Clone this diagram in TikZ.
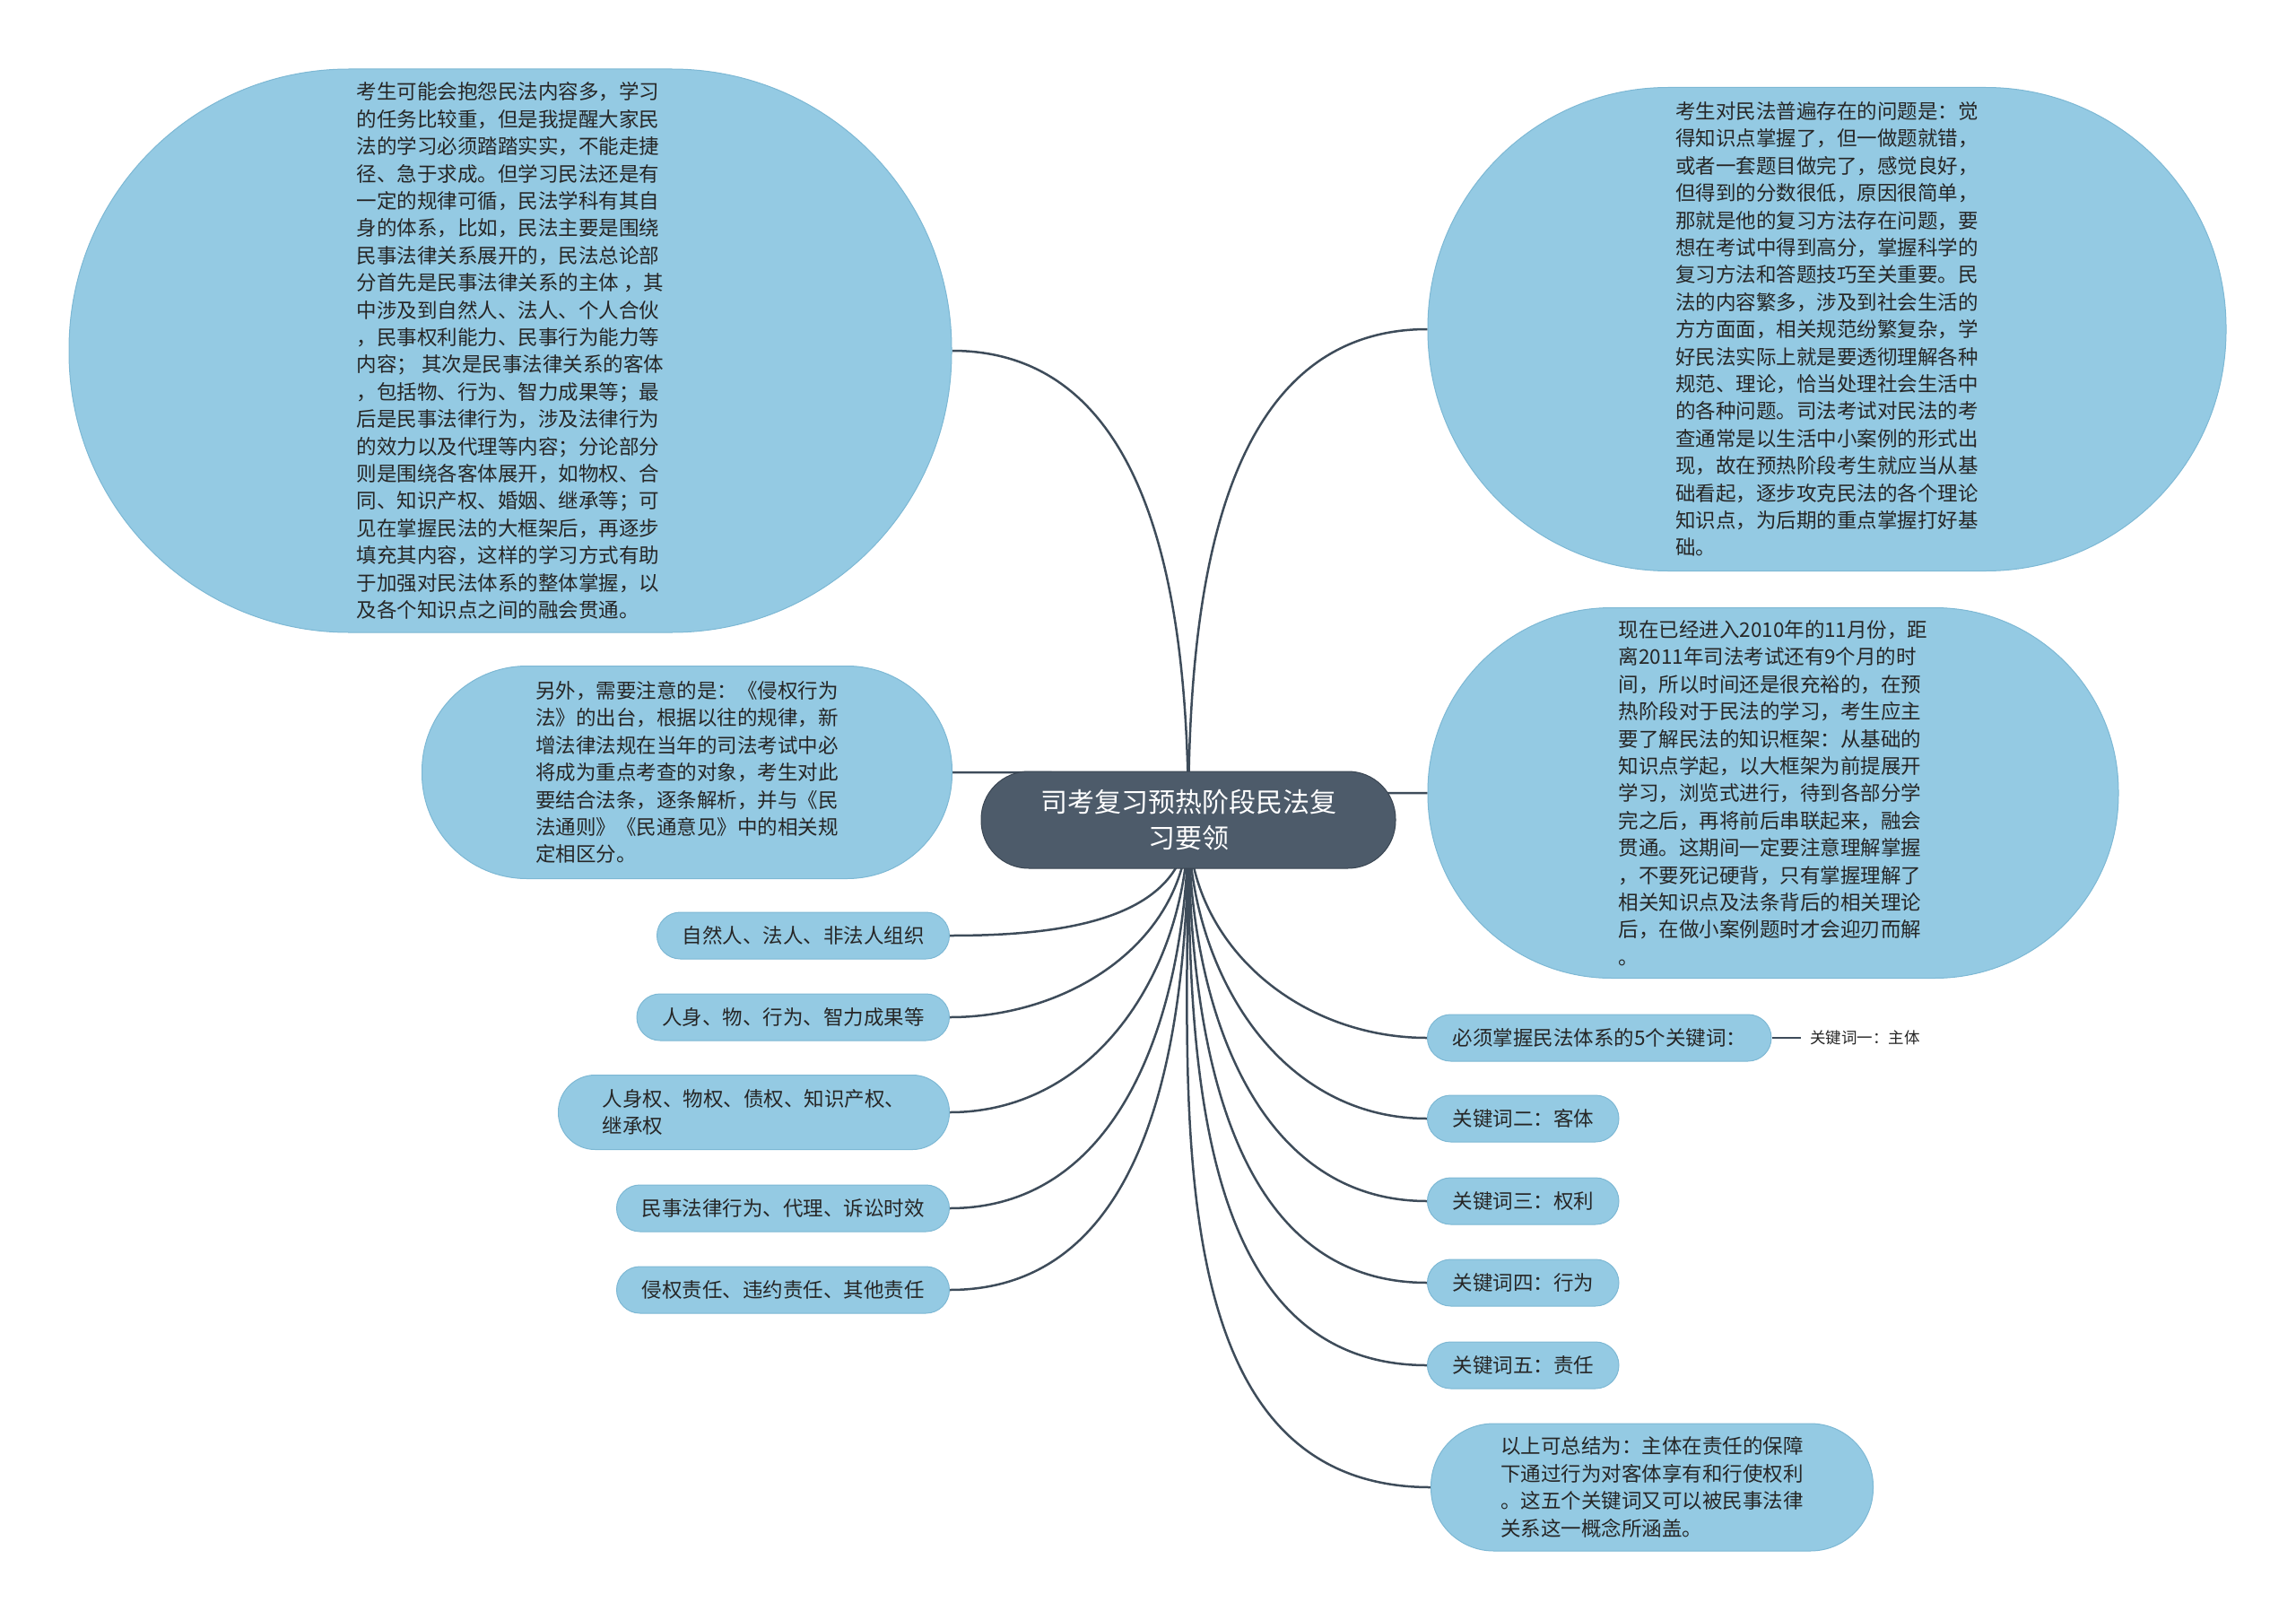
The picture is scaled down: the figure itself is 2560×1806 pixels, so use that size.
\documentclass[tikz,border=0pt]{standalone}
\usepackage{fontspec}
\setmainfont{Noto Sans CJK SC}
\usetikzlibrary{backgrounds}
\definecolor{leafblue}{RGB}{148,202,227}
\definecolor{leafedge}{RGB}{125,184,212}
\definecolor{rootgray}{RGB}{77,91,106}
\definecolor{rootedge}{RGB}{58,70,83}
\definecolor{linegray}{RGB}{62,76,90}
\definecolor{textdark}{RGB}{38,38,38}

\begin{document}
\begin{tikzpicture}[x=1pt,y=-1pt,
    topic/.style={draw=leafedge, line width=1pt, fill=leafblue, text=textdark, align=left,
      rounded corners=26pt, minimum height=52pt, inner xsep=28pt,
      font={\fontsize{22.5pt}{30.4pt}\selectfont}},
    bigtopic/.style={topic, inner sep=0pt},
    branch/.style={draw=linegray, line width=2.5pt}]
            \useasboundingbox (0,0) rectangle (2560,1806);

            % central topic
            \node[draw=rootedge, line width=1pt, fill=rootgray, text=white, align=center, rounded corners=53pt,
              minimum width=462pt, minimum height=108pt, font={\fontsize{30pt}{40pt}\selectfont}]
              (root) at (1325,914) {司考复习预热阶段民法复\\习要领};

            % long text topics
            \node[bigtopic, minimum width=984pt, minimum height=628pt, rounded corners=312pt] (lt) at (569,391)
              {考生可能会抱怨民法内容多，学习\\的任务比较重，但是我提醒大家民\\法的学习必须踏踏实实，不能走捷\\径、急于求成。但学习民法还是有\\一定的规律可循，民法学科有其自\\身的体系，比如，民法主要是围绕\\民事法律关系展开的，民法总论部\\分首先是民事法律关系的主体 ，其\\中涉及到自然人、法人、个人合伙\\，民事权利能力、民事行为能力等\\内容； 其次是民事法律关系的客体\\，包括物、行为、智力成果等；最\\后是民事法律行为，涉及法律行为\\的效力以及代理等内容；分论部分\\则是围绕各客体展开，如物权、合\\同、知识产权、婚姻、继承等；可\\见在掌握民法的大框架后，再逐步\\填充其内容，这样的学习方式有助\\于加强对民法体系的整体掌握，以\\及各个知识点之间的融会贯通。};
            \node[bigtopic, minimum width=890pt, minimum height=539pt, rounded corners=268pt] (tr) at (2037,367)
              {考生对民法普遍存在的问题是：觉\\得知识点掌握了，但一做题就错，\\或者一套题目做完了，感觉良好，\\但得到的分数很低，原因很简单，\\那就是他的复习方法存在问题，要\\想在考试中得到高分，掌握科学的\\复习方法和答题技巧至关重要。民\\法的内容繁多，涉及到社会生活的\\方方面面，相关规范纷繁复杂，学\\好民法实际上就是要透彻理解各种\\规范、理论，恰当处理社会生活中\\的各种问题。司法考试对民法的考\\查通常是以生活中小案例的形式出\\现，故在预热阶段考生就应当从基\\础看起，逐步攻克民法的各个理论\\知识点，为后期的重点掌握打好基\\础。};
            \node[bigtopic, minimum width=770pt, minimum height=413pt, rounded corners=205pt] (rm) at (1977,884)
              {现在已经进入2010年的11月份，距\\离2011年司法考试还有9个月的时\\间，所以时间还是很充裕的，在预\\热阶段对于民法的学习，考生应主\\要了解民法的知识框架：从基础的\\知识点学起，以大框架为前提展开\\学习，浏览式进行，待到各部分学\\完之后，再将前后串联起来，融会\\贯通。这期间一定要注意理解掌握\\，不要死记硬背，只有掌握理解了\\相关知识点及法条背后的相关理论\\后，在做小案例题时才会迎刃而解\\。};
            \node[bigtopic, minimum width=591pt, minimum height=237pt, rounded corners=117pt] (lm) at (766,861)
              {另外，需要注意的是：《侵权行为\\法》的出台，根据以往的规律，新\\增法律法规在当年的司法考试中必\\将成为重点考查的对象，考生对此\\要结合法条，逐条解析，并与《民\\法通则》《民通意见》中的相关规\\定相区分。};
            \node[bigtopic, minimum width=493pt, minimum height=142pt, rounded corners=70pt] (sum) at (1842,1658)
              {以上可总结为：主体在责任的保障\\下通过行为对客体享有和行使权利\\。这五个关键词又可以被民事法律\\关系这一概念所涵盖。};

            % short topics, left
            \node[topic, anchor=east] (n1) at (1059,1043) {自然人、法人、非法人组织};
            \node[topic, anchor=east] (n2) at (1059,1134) {人身、物、行为、智力成果等};
            \node[topic, anchor=east, minimum width=436pt, minimum height=83pt, rounded corners=41pt] (n3) at (1059,1240)
              {人身权、物权、债权、知识产权、\\继承权};
            \node[topic, anchor=east] (n4) at (1059,1347) {民事法律行为、代理、诉讼时效};
            \node[topic, anchor=east] (n5) at (1059,1438) {侵权责任、违约责任、其他责任};

            % short topics, right
            \node[topic, anchor=west] (k1) at (1591,1157) {必须掌握民法体系的5个关键词：};
            \node[topic, anchor=west] (k2) at (1591,1247) {关键词二：客体};
            \node[topic, anchor=west] (k3) at (1591,1339) {关键词三：权利};
            \node[topic, anchor=west] (k4) at (1591,1430) {关键词四：行为};
            \node[topic, anchor=west] (k5) at (1591,1522) {关键词五：责任};
            \node[text=textdark, inner sep=10pt, anchor=west, font={\fontsize{17.5pt}{20pt}\selectfont}] (k1a) at (2008,1157) {关键词一：主体};

            \begin{scope}[on background layer]
              \draw[branch] (root.center) to[out=90,in=0] (lt.east);
              \draw[branch] (root.center) to[out=90,in=180] (tr.west);
              \draw[branch] (root.center) .. controls (root.center |- lm.east) .. (lm.east);
              \draw[branch] (root.center) .. controls (root.center |- rm.west) .. (rm.west);
              \foreach \n in {n1,n2,n3,n4,n5}
                \draw[branch] (root.center) to[out=-90,in=0] (\n.east);
              \foreach \n in {k1,k2,k3,k4,k5,sum}
                \draw[branch] (root.center) to[out=-90,in=180] (\n.west);
            \end{scope}
            \draw[branch] (k1.east) -- (k1a.west);
        \end{tikzpicture}
\end{document}
